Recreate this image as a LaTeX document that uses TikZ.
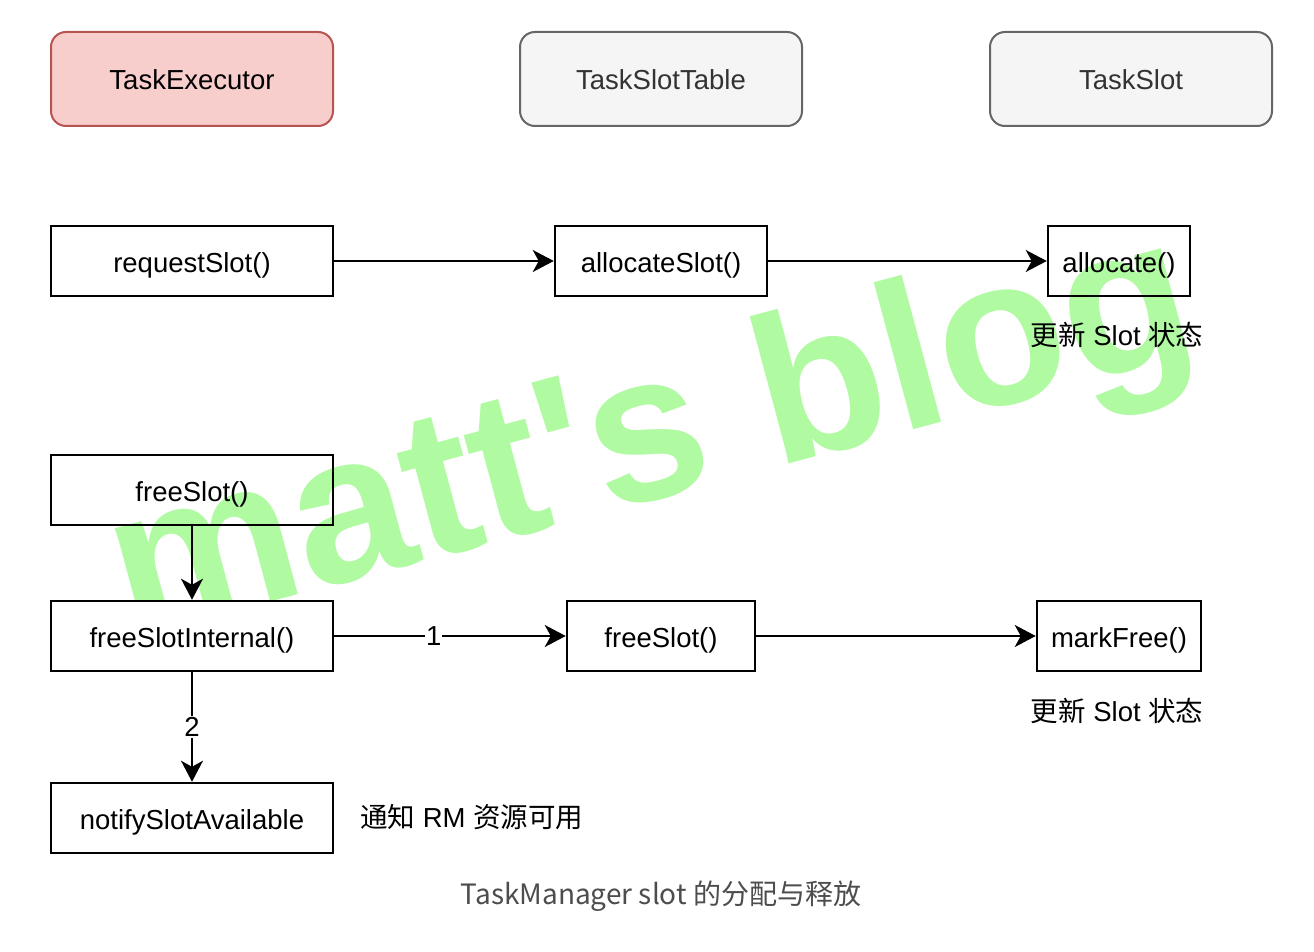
\documentclass[tikz,border=0pt]{standalone}
\usepackage{fontspec}
\setmainfont{Liberation Sans}
\newfontfamily\cjk{Noto Sans CJK SC}
\newfontfamily\wmfont{Liberation Sans}
\usetikzlibrary{arrows.meta}
\definecolor{redfill}{HTML}{F8CECC}
\definecolor{redline}{HTML}{B85450}
\definecolor{grayfill}{HTML}{F5F5F5}
\definecolor{grayline}{HTML}{666666}
\definecolor{graytext}{HTML}{333333}
\definecolor{wmgreen}{RGB}{176,250,162}
\definecolor{captext}{HTML}{4D4D4D}
\tikzset{
  main/.style={font=\fontsize{27.5}{33}\selectfont},
  boxtext/.style={main, text height=28pt, text depth=6pt},
  header/.style={boxtext, draw, rounded corners=15pt, line width=2pt, minimum width=282pt, minimum height=94pt, inner sep=0pt},
  redhdr/.style={header, fill=redfill, draw=redline},
  grayhdr/.style={header, fill=grayfill, draw=grayline, text=graytext},
  fbox/.style={boxtext, draw=black, line width=2.5pt, minimum height=70pt, inner sep=0pt},
  conn/.style={line width=2pt, -{Stealth[length=21pt,width=22pt,inset=6pt]}},
  elabel/.style={main, fill=white, inner sep=1pt},
  note/.style={main},
}
\begin{document}
\begin{tikzpicture}[x=1pt,y=-1pt]
\useasboundingbox[fill=white] (0,0) rectangle (1314,952);
% watermark
\node[rotate=15, anchor=base west, inner sep=0pt, text=wmgreen,
  font=\wmfont\bfseries\fontsize{210}{210}\selectfont] (wm) at (130,640) {matt's blog};
% headers
\node[redhdr] (te) at (192,79) {TaskExecutor};
\node[grayhdr] (tst) at (661,79) {TaskSlotTable};
\node[grayhdr] (ts) at (1131,79) {TaskSlot};
% boxes
\node[fbox, minimum width=282pt] (req) at (192,261) {requestSlot()};
\node[fbox, minimum width=212pt] (alocS) at (661,261) {allocateSlot()};
\node[fbox, minimum width=142pt] (aloc) at (1119,261) {allocate()};
\node[fbox, minimum width=282pt] (fs) at (192,490) {freeSlot()};
\node[fbox, minimum width=282pt, fill=white] (fsi) at (192,636) {freeSlotInternal()};
\node[fbox, minimum width=188pt] (fs2) at (661,636) {freeSlot()};
\node[fbox, minimum width=164pt] (mf) at (1119,636) {markFree()};
\node[fbox, minimum width=282pt] (nsa) at (192,818) {notifySlotAvailable};
% notes
\node[note] (n1) at (1117,335) {{\cjk 更新} Slot {\cjk 状态}};
\node[note] (n2) at (1117,711) {{\cjk 更新} Slot {\cjk 状态}};
\node[note, anchor=west, inner sep=0pt] (n3) at (360,817) {{\cjk 通知} RM {\cjk 资源可用}};
\node[font=\cjk\fontsize{28}{32}\selectfont, text=captext] (cap) at (661,896) {TaskManager slot 的分配与释放};
% connectors
\draw[conn] (req) -- (alocS);
\draw[conn] (alocS) -- (aloc);
\draw[conn] (fs) -- (fsi);
\draw[conn] (fsi) -- node[elabel, pos=0.43] {1} (fs2);
\draw[conn] (fs2) -- (mf);
\draw[conn] (fsi) -- node[elabel, pos=0.5] {2} (nsa);
\end{tikzpicture}
\end{document}
